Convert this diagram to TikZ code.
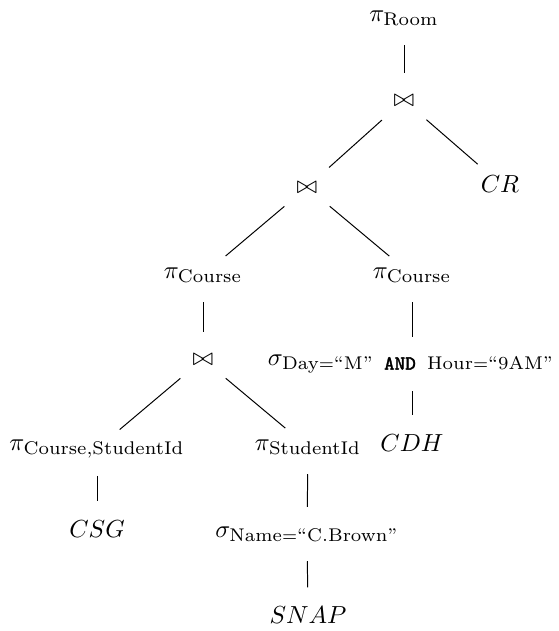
\documentclass[tikz,border=0pt]{standalone}
\usepackage{amsmath}
\usepackage{fontspec}
\setmonofont{Latin Modern Mono}[AutoFakeBold=1.5]
\DeclareMathSizes{10}{10}{7.45}{5}
\newcommand{\andop}{\hspace{4.6pt}{\fontsize{8.1}{9}\selectfont\ttfamily\bfseries AND}\hspace{4.6pt}}
\begin{document}
\begin{tikzpicture}[x=0.405pt,y=-0.405pt,
  every node/.style={inner sep=0pt, anchor=base},
  vedge/.style={draw, line width=0.4pt, shorten <=11pt, shorten >=11pt},
  dedge/.style={draw, line width=0.4pt, shorten <=12pt, shorten >=12pt}]
\useasboundingbox (0,0) rectangle (558,631);
\node (r)    at (404,21)  {$\pi_{\text{Room}}$};
\node (j1)   at (404,106) {$\bowtie$};
\node (j2)   at (307,193) {$\bowtie$};
\node (cr)   at (500,192) {$CR$};
\node (pc1)  at (203,278) {$\pi_{\text{Course}}$};
\node (pc2)  at (412,278) {$\pi_{\text{Course}}$};
\node (j3)   at (203,365) {$\bowtie$};
\node (sd)   at (411,365) {$\sigma_{\text{Day}=\text{``M''}\text{\andop}\text{Hour}=\text{``9AM''}}$};
\node (pcs)  at (97,450)  {$\pi_{\text{Course,StudentId}}$};
\node (ps)   at (308,450) {$\pi_{\text{StudentId}}$};
\node (cdh)  at (412,451) {$CDH$};
\node (csg)  at (97,537)  {$CSG$};
\node (sn)   at (307,537) {$\sigma_{\text{Name}=\text{``C.Brown''}}$};
\node (snap) at (308,623) {$SNAP$};
\path[vedge] (r.center) -- (j1.center);
\path[dedge] (j1.center) -- (j2.center);
\path[dedge] (j1.center) -- (cr.center);
\path[dedge] (j2.center) -- (pc1.center);
\path[dedge] (j2.center) -- (pc2.center);
\path[vedge] (pc1.center) -- (j3.center);
\path[vedge] (pc2.center) -- (pc2.center |- sd.center);
\path[dedge] (j3.center) -- (pcs.center);
\path[dedge] (j3.center) -- (ps.center);
\path[vedge] (pc2.center |- sd.center) -- (cdh.center);
\path[vedge] (pcs.center) -- (csg.center);
\path[vedge] (ps.center) -- (sn.center);
\path[vedge] (sn.center) -- (snap.center);
\end{tikzpicture}
\end{document}
